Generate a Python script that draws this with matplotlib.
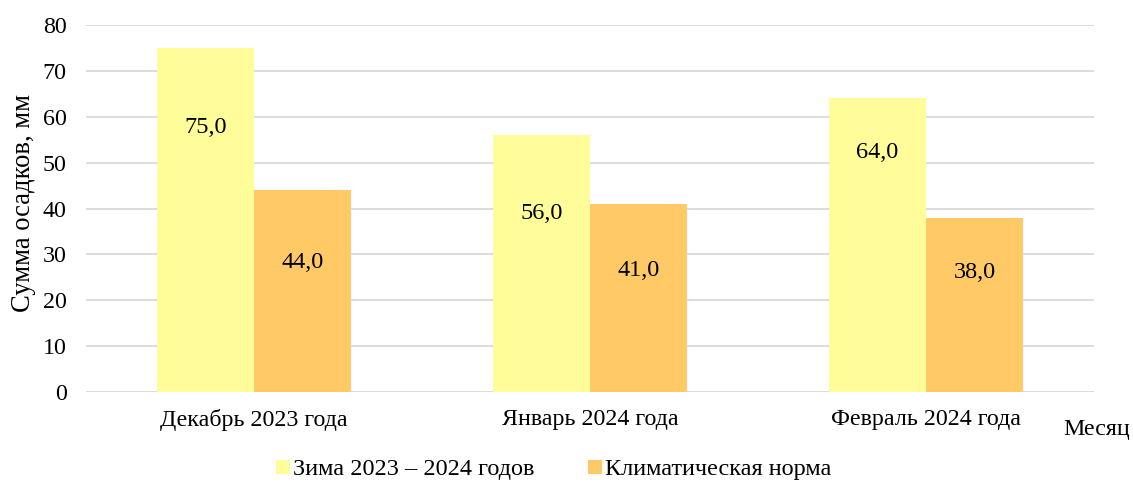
import numpy as np
import matplotlib.pyplot as plt

plt.rcParams['font.family'] = ['Liberation Serif', 'DejaVu Serif']

months = ['Декабрь 2023 года', 'Январь 2024 года', 'Февраль 2024 года']
winter = [75.0, 56.0, 64.0]
norm = [44.0, 41.0, 38.0]
labels = ['Зима 2023 – 2024 годов', 'Климатическая норма']
# where the value labels sit inside the bars
winter_lbl_y = [57.6, 39.0, 52.3]
norm_lbl_y = [28.3, 26.6, 26.0]

fig = plt.figure(figsize=(11.33, 4.84), dpi=100)
ax = fig.add_axes([0.0759, 0.19, 0.8897, 0.7583])

x = np.arange(len(months))
w = 0.289
b1 = ax.bar(x - w / 2, winter, w, color='#FFFD99', label=labels[0], zorder=3)
b2 = ax.bar(x + w / 2, norm, w, color='#FFC966', label=labels[1], zorder=3)

for bars, ys in ((b1, winter_lbl_y), (b2, norm_lbl_y)):
    for r, yy in zip(bars, ys):
        v = r.get_height()
        ax.text(r.get_x() + r.get_width() / 2, yy, f'{v:.1f}'.replace('.', ','),
                ha='center', va='center', fontsize=17.5, zorder=4)

ax.set_xlim(-0.5, 2.5)
ax.set_ylim(0, 80)
ax.set_yticks(range(0, 81, 10))
ax.set_xticks(x)
ax.set_xticklabels(months)
ax.tick_params(axis='both', length=0, labelsize=17.3)
ax.tick_params(axis='y', pad=14)
ax.tick_params(axis='x', pad=12)
ax.grid(axis='y', color='#d9d9d9', linewidth=1.3, zorder=0)
for s in ax.spines.values():
    s.set_visible(False)

ax.set_ylabel('Сумма осадков, мм', fontsize=19.2)
ax.yaxis.set_label_coords(-0.05, 0.515)
fig.text(0.997, 0.112, 'Месяц', ha='right', va='center', fontsize=17.3)

fig.legend(loc='center', bbox_to_anchor=(0.489, 0.029), ncol=2, frameon=False,
           fontsize=17.5, handlelength=0.55, handleheight=0.55, handletextpad=0.15,
           columnspacing=2.2)

plt.savefig('out.png', dpi=100)
